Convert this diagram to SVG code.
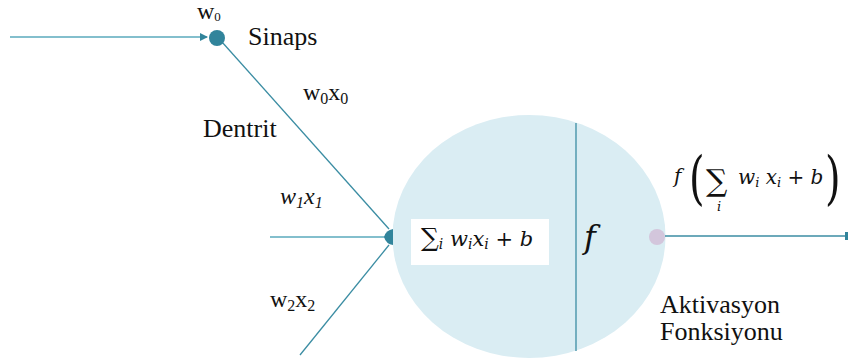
<svg xmlns="http://www.w3.org/2000/svg" width="849" height="363" viewBox="0 0 849 363">
<style>
.ln{stroke:#3b8da3;stroke-width:1.3;fill:none}
.lt{stroke:#5aaabd;stroke-width:1.5;fill:none}
.t{font-family:"Liberation Serif","Times New Roman",serif;font-size:24px;fill:#111}
.b{font-size:26px}
.m{font-family:"DejaVu Serif","Liberation Serif",serif;fill:#111}
</style>
<defs>
<marker id="ah" markerWidth="8" markerHeight="8" refX="7" refY="4" orient="auto" markerUnits="userSpaceOnUse">
<path d="M0,0 L8,4 L0,8 Z" fill="#31849b"/>
</marker>
</defs>
<rect width="849" height="363" fill="#fff"/>
<g id="neuron">
<ellipse cx="529" cy="236.5" rx="136.5" ry="121.5" fill="#daedf3"/>
<line x1="576" y1="123" x2="576" y2="351" stroke="#3b8da3" stroke-width="1.3"/>
</g>
<g id="sum">
<rect x="411" y="219" width="138" height="46" fill="#fff"/>
<text class="m" x="421" y="246" font-size="25">∑<tspan font-size="14" dy="3" font-style="italic">i</tspan><tspan font-size="21" dy="-3" font-style="italic"> w</tspan><tspan font-size="14" dy="3" font-style="italic">i</tspan><tspan font-size="21" dy="-3" font-style="italic">x</tspan><tspan font-size="14" dy="3" font-style="italic">i</tspan><tspan font-size="21" dy="-3"> + </tspan><tspan font-size="21" font-style="italic">b</tspan></text>
</g>
<g id="activation">
<text class="m" x="584" y="248" font-size="32" font-style="italic">f</text>
<circle cx="657" cy="237" r="8" fill="#d3c6dc"/>
</g>
<g id="connectors">
<line class="lt" x1="10" y1="37" x2="207" y2="37" marker-end="url(#ah)"/>
<line class="ln" x1="222" y1="42" x2="389" y2="229"/>
<line class="lt" x1="270" y1="237" x2="390" y2="237"/>
<line class="ln" x1="300" y1="355" x2="389" y2="245"/>
<line class="ln" x1="665" y1="236" x2="847" y2="236"/>
<rect x="845" y="232" width="3" height="8" fill="#31849b"/>
<path d="M384,237 Q386,230 393,229 L393,245 Q386,244 384,237 Z" fill="#31849b"/>
</g>
<g id="synapse">
<circle cx="217" cy="38" r="8" fill="#31849b"/>
</g>
<g id="labels">
<text class="t" x="197" y="19" font-size="18">w<tspan font-size="13" dy="2">0</tspan></text>
<text class="t b" x="248" y="45">Sinaps</text>
<text class="t" x="303" y="100">w<tspan font-size="16" dy="4">0</tspan><tspan dy="-4">x</tspan><tspan font-size="16" dy="4">0</tspan></text>
<text class="t b" x="203" y="137">Dentrit</text>
<text class="t" x="280" y="204" font-style="italic">w<tspan font-size="16" dy="4">1</tspan><tspan dy="-4">x</tspan><tspan font-size="16" dy="4">1</tspan></text>
<text class="t" x="270" y="307">w<tspan font-size="16" dy="4">2</tspan><tspan dy="-4">x</tspan><tspan font-size="16" dy="4">2</tspan></text>
<text class="t b" x="660" y="313">Aktivasyon</text>
<text class="t b" x="660" y="340">Fonksiyonu</text>
</g>
<g id="output-formula">
<text class="m" x="674" y="183" font-size="20" font-style="italic">f</text>
<text class="m" font-size="40" font-weight="100" transform="translate(689,198) scale(1,1.45)">(</text>
<text class="m" x="706" y="191" font-size="30">∑</text>
<text class="m" x="717" y="211" font-size="13" font-style="italic">i</text>
<text class="m" x="738" y="184" font-size="20" font-style="italic">w<tspan font-size="13" dy="3">i</tspan><tspan dy="-3"> x</tspan><tspan font-size="13" dy="3">i</tspan><tspan dy="-3" font-style="normal"> + </tspan>b</text>
<text class="m" font-size="40" font-weight="100" transform="translate(825,198) scale(1,1.45)">)</text>
</g>
</svg>
